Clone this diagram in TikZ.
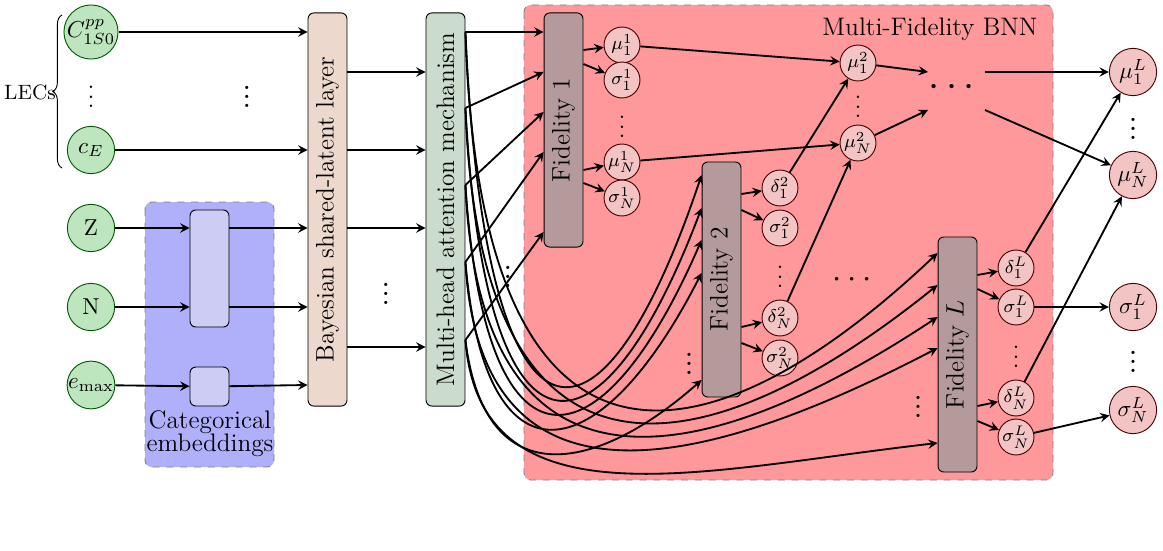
\documentclass[tikz,border=0pt]{standalone}
\usepackage{amsmath}
\usepackage{amssymb}
\usepackage{xcolor}
\usetikzlibrary{decorations.pathreplacing}

\definecolor{ingreen}{HTML}{BDE6BF}
\definecolor{bayfill}{HTML}{ECD8CC}
\definecolor{attfill}{HTML}{CCDCCC}
\definecolor{fidfill}{HTML}{B59A9B}
\definecolor{outfill}{HTML}{F2C4C4}
\definecolor{bnnfill}{HTML}{FF989A}
\definecolor{embfill}{HTML}{B0B0FA}
\definecolor{embbox}{HTML}{CCCCF4}

\tikzset{
  inp/.style={circle, draw=green!35!black, fill=ingreen, minimum size=20.5pt, inner sep=0pt},
  hid/.style={circle, draw=red!30!black, fill=outfill, minimum size=15.6pt, inner sep=0pt, font=\footnotesize},
  res/.style={circle, draw=red!30!black, fill=outfill, minimum size=20.5pt, inner sep=0pt},
  blk/.style={draw, rounded corners=2.5pt, minimum width=16.9pt, inner sep=0pt},
  lbl/.style={rotate=90, font=\fontsize{11}{13}\selectfont},
  arr/.style={->, >=stealth, thick},
}

\begin{document}
\begin{tikzpicture}[x=0.434pt, y=-0.434pt]
  \useasboundingbox (0,0) rectangle (1163,550);

  % backgrounds
  \fill[embfill, draw=gray, dashed, rounded corners=3pt] (145,202) rectangle (274,467);
  \fill[bnnfill, draw=gray, dashed, rounded corners=3pt] (524,5) rectangle (1053,480);
  \node[font=\fontsize{11}{13}\selectfont] (bnnlbl) at (930,29) {Multi-Fidelity BNN};
  \node[align=center, font=\fontsize{11}{13}\selectfont] (emblbl) at (210,434) {Categorical\\[-3pt]embeddings};

  % inputs
  \node[inp] (C)  at (91,32)  {$C^{pp}_{1S0}$};
  \node       (dC) at (91,90)  {$\vdots$};
  \node[inp] (E)  at (91,150) {$c_E$};
  \node[inp] (Z)  at (91,228) {Z};
  \node[inp] (N)  at (91,307) {N};
  \node[inp] (M)  at (91,385) {$e_{\max}$};
  \draw[decorate, decoration={brace, amplitude=4pt}] (62,168) -- (62,15);
  \node[font=\small] (lec) at (30,92) {LECs};

  % blocks
  \node[blk, fill=embbox, minimum height=50.8pt] (embA) at (209.5,268.5) {};
  \node[blk, fill=embbox, minimum height=16.9pt] (embB) at (209.5,386.5) {};
  \node[blk, fill=bayfill, minimum height=170.6pt] (bay) at (327.5,209.5) {};
  \node[lbl] at (bay) {Bayesian shared-latent layer};
  \node[blk, fill=attfill, minimum height=170.6pt] (att) at (445.5,209.5) {};
  \node[lbl] at (att) {Multi-head attention mechanism};
  \node[blk, fill=fidfill, minimum height=101.6pt] (fA) at (563.5,130) {};
  \node[lbl] at (fA) {Fidelity 1};
  \node[blk, fill=fidfill, minimum height=102pt] (fB) at (721.5,279.5) {};
  \node[lbl] at (fB) {Fidelity 2};
  \node[blk, fill=fidfill, minimum height=102pt] (fL) at (957.5,354.5) {};
  \node[lbl] at (fL) {Fidelity $L$};

  % left side arrows
  \draw[arr] (C) -- (C -| bay.west);
  \draw[arr] (E) -- (E -| bay.west);
  \node (dmid) at (247,90) {\Large$\vdots$};
  \draw[arr] (Z) -- (Z -| embA.west);
  \draw[arr] (N) -- (N -| embA.west);
  \draw[arr] (M) -- (embB);
  \draw[arr] (Z -| embA.east) -- (Z -| bay.west);
  \draw[arr] (N -| embA.east) -- (N -| bay.west);
  \draw[arr] (embB) -- (M -| bay.west);
  \foreach \y in {72,150,228,347}
    \draw[arr] (bay.east |- 0,\y) -- (att.west |- 0,\y);
  \node (dbay) at (386,287) {\Large$\vdots$};
  \node (datt) at (508,270) {\Large$\vdots$};

  % fidelity 1
  \node[hid] (m11) at (622,45)  {$\mu^1_1$};
  \node[hid] (s11) at (622,80)  {$\sigma^1_1$};
  \node      (d1)  at (622,120) {$\vdots$};
  \node[hid] (m1N) at (622,162) {$\mu^1_N$};
  \node[hid] (s1N) at (622,198) {$\sigma^1_N$};
  \draw[arr] (fA.east |- 0,50) -- (m11);
  \draw[arr] (fA.east |- 0,64) -- (s11);
  \draw[arr] (fA.east |- 0,170) -- (m1N);
  \draw[arr] (fA.east |- 0,183) -- (s1N);

  % fidelity 2
  \node[hid] (d21) at (780,188) {$\delta^2_1$};
  \node[hid] (s21) at (780,228) {$\sigma^2_1$};
  \node      (d2)  at (780,270) {$\vdots$};
  \node[hid] (d2N) at (780,318) {$\delta^2_N$};
  \node[hid] (s2N) at (780,358) {$\sigma^2_N$};
  \draw[arr] (fB.east |- 0,194) -- (d21);
  \draw[arr] (fB.east |- 0,210) -- (s21);
  \draw[arr] (fB.east |- 0,327) -- (d2N);
  \draw[arr] (fB.east |- 0,343) -- (s2N);
  \node (dfB) at (689,357) {\Large$\vdots$};

  \node[hid] (m21) at (858,63)  {$\mu^2_1$};
  \node      (dm2) at (858,100) {$\vdots$};
  \node[hid] (m2N) at (858,143) {$\mu^2_N$};
  \draw[arr] (m11) -- (m21);
  \draw[arr] (m1N) -- (m2N);
  \draw[arr] (d21) -- (m21);
  \draw[arr] (d2N) -- (m2N);

  \node (big) at (955,88) {\LARGE$\cdots$};
  \coordinate (bigA) at (928,72);
  \coordinate (bigB) at (928,110);
  \coordinate (bigC) at (985,72);
  \coordinate (bigD) at (985,110);
  \draw[arr] (m21) -- (bigA);
  \draw[arr] (m2N) -- (bigB);
  \node (dmid2) at (855,280) {\Large$\cdots$};

  % fidelity L
  \node[hid] (dL1) at (1016,268) {$\delta^L_1$};
  \node[hid] (sL1) at (1016,307) {$\sigma^L_1$};
  \node      (dL)  at (1016,350) {$\vdots$};
  \node[hid] (dLN) at (1016,398) {$\delta^L_N$};
  \node[hid] (sLN) at (1016,437) {$\sigma^L_N$};
  \draw[arr] (fL.east |- 0,275) -- (dL1);
  \draw[arr] (fL.east |- 0,289) -- (sL1);
  \draw[arr] (fL.east |- 0,406) -- (dLN);
  \draw[arr] (fL.east |- 0,421) -- (sLN);
  \node (dfL) at (918,400) {\Large$\vdots$};

  % outputs
  \node[res] (oM1) at (1133,72)  {$\mu^L_1$};
  \node      (do1) at (1133,122) {\Large$\vdots$};
  \node[res] (oMN) at (1133,175) {$\mu^L_N$};
  \node[res] (oS1) at (1133,307) {$\sigma^L_1$};
  \node      (do2) at (1133,355) {\Large$\vdots$};
  \node[res] (oSN) at (1133,410) {$\sigma^L_N$};
  \draw[arr] (bigC) -- (oM1);
  \draw[arr] (bigD) -- (oMN);
  \draw[arr] (dL1) -- (oM1);
  \draw[arr] (dLN) -- (oMN);
  \draw[arr] (sL1) -- (oS1);
  \draw[arr] (sLN) -- (oSN);

  % attention heads to every fidelity
  \foreach \s/\a/\b/\c [count=\k] in {32/32/175/253, 108/72/208/285, 185/112/240/317, 262/152/273/348, 340/232/380/443} {
    \draw[arr] (att.east |- 0,\s) -- (fA.west |- 0,\a);
    \draw[arr] (att.east |- 0,\s) .. controls (485,{470+6*\k}) and (600,{480-2*\k}) .. (fB.west |- 0,\b);
    \draw[arr] (att.east |- 0,\s) .. controls (480,{500+6*\k}) and (700,{480-2*\k}) .. (fL.west |- 0,\c);
  }
\end{tikzpicture}
\end{document}
